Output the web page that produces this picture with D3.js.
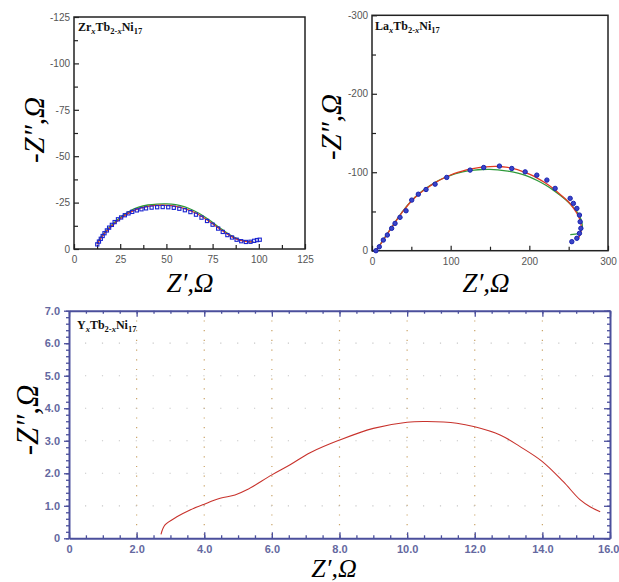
<!DOCTYPE html>
<html>
<head>
<meta charset="utf-8">
<script src="https://cdn.jsdelivr.net/npm/d3@7/dist/d3.min.js"></script>
<style>
  body { margin: 0; background: #fff; }
  svg { display: block; }
  .tick text { font-family: "Liberation Sans", Arial, sans-serif; }
</style>
</head>
<body>
<svg id="chart" width="619" height="582"></svg>
<script>
// ---- panel 1: ZrxTb2-xNi17 (Z', -Z'') ----
const zrSquares = [[12.6,-2.5],[13.5,-4],[14.5,-5.5],[15.5,-7],[16.5,-8.5],[17.8,-10],[19,-11.5],[20.5,-13],
  [22,-14.5],[23.8,-16],[25.5,-17],[27.5,-18.2],[29.5,-19.2],[31.5,-20],[34,-20.8],[36.5,-21.4],[39,-21.9],
  [42,-22.3],[45,-22.5],[48,-22.6],[51,-22.5],[54,-22.2],[57,-21.7],[60,-20.9],[63,-19.9],[66,-18.5],
  [69,-16.9],[72,-15.1],[75,-13.1],[78,-11],[80.5,-9.2],[83,-7.5],[85.5,-6.2],[88,-5],[90.5,-4.2],
  [93,-3.8],[95.5,-3.9],[97.5,-4.4],[99,-4.8],[100.5,-5]];
const zrRed = [[12.5,-2.5],[15,-6.5],[20,-12],[25,-16.3],[30,-19.6],[35,-21.8],[40,-23],[45,-23.5],[50,-23.5],
  [55,-23],[60,-21.8],[65,-19.8],[70,-17],[75,-13.6],[80,-10],[85,-6.8],[90,-4.6],[95,-3.8],[97,-4]];
const zrGreen = [[12.5,-2.8],[15,-7],[20,-12.6],[25,-17],[30,-20.3],[35,-22.5],[40,-23.7],[45,-24.2],[50,-24.3],
  [55,-23.9],[60,-22.7],[65,-20.6],[70,-17.8],[75,-14.3],[80,-10.6],[85,-7.2],[90,-4.9],[95,-3.9],[97,-4]];
const zrXTicks = [0, 25, 50, 75, 100, 125];
const zrYTicks = [0, -25, -50, -75, -100, -125];

// ---- panel 2: LaxTb2-xNi17 ----
const laDots = [[5,0],[9.3,-5],[14.4,-13.6],[19.5,-20],[25,-28.5],[29.3,-34.8],[35.6,-42.5],[43.3,-50.9],
  [50.5,-64.5],[58.9,-72],[68.7,-78],[80.2,-84.8],[95,-93.4],[124.7,-102.7],[142,-106],[162,-107.8],
  [177.7,-104.8],[194.7,-100.5],[209.5,-96.3],[222.3,-90],[232.8,-79.4],[251.9,-66.7],[256,-60.3],
  [260.4,-53.9],[263.7,-45.4],[264.6,-36.9],[265.5,-28.5],[263.7,-22.1],[260.4,-15.8],[254,-11.5]];
const laRed = [[5,0],[10,-7],[20,-22],[30,-37],[40,-51],[50,-63],[60,-72.5],[70,-80],[80,-86.5],[90,-92],
  [100,-96.5],[110,-100],[120,-103],[130,-105],[140,-106.5],[150,-107.2],[160,-107.3],[170,-106.5],
  [180,-104.5],[190,-101.5],[200,-97.5],[210,-92.5],[220,-86.5],[230,-79.5],[240,-71],[250,-62],
  [257,-53],[262,-45],[265,-37],[266,-30],[265,-22],[262,-15]];
const laGreen = [[5,0],[10,-7.5],[20,-22.5],[30,-37.5],[40,-51.5],[50,-63.5],[60,-73],[70,-80.5],[80,-86.8],
  [90,-92],[100,-96],[110,-99.2],[120,-101.5],[130,-102.8],[140,-103.5],[150,-103.6],[160,-103],
  [170,-101.8],[180,-100],[190,-97.5],[200,-94],[210,-89.5],[220,-84],[230,-77.5],[240,-70],
  [250,-61.5],[258,-53],[264,-44],[267,-35],[267,-28],[264,-23],[258,-21],[252,-20.5]];
const laXTicks = [0, 100, 200, 300];
const laYTicks = [0, -100, -200, -300];

// ---- panel 3: YxTb2-xNi17 ----
const yCurve = [[2.72,0.12],[2.84,0.41],[3.19,0.66],[3.58,0.87],[4.0,1.05],[4.47,1.23],[4.91,1.33],
  [5.26,1.49],[6.0,1.95],[6.54,2.26],[7.13,2.63],[8.0,3.02],[9.0,3.38],[10.0,3.57],[10.58,3.59],
  [11.47,3.54],[12.0,3.43],[12.75,3.18],[13.34,2.82],[14.0,2.36],[14.62,1.74],[15.12,1.18],
  [15.41,0.97],[15.71,0.82]];
const yXTicks = [0, 2, 4, 6, 8, 10, 12, 14, 16];
const yXLabels = ["0", "2.0", "4.0", "6.0", "8.0", "10.0", "12.0", "14.0", "16.0"];
const yYTicks = [0, 1, 2, 3, 4, 5, 6, 7];
const yYLabels = ["0", "1.0", "2.0", "3.0", "4.0", "5.0", "6.0", "7.0"];

const svg = d3.select("#chart");
const serif = "'Liberation Serif', 'Times New Roman', serif";

function title(g, x, y, el) {
  const t = g.append("text").attr("x", x).attr("y", y)
    .attr("font-family", serif).attr("font-weight", "bold").attr("font-size", 12).attr("fill", "#111");
  t.append("tspan").text(el);
  t.append("tspan").attr("font-size", 8.5).attr("font-style", "italic").attr("dy", 2.5).text("x");
  t.append("tspan").attr("dy", -2.5).text("Tb");
  t.append("tspan").attr("font-size", 8.5).attr("dy", 2.5).text("2-");
  t.append("tspan").attr("font-size", 8.5).attr("font-style", "italic").text("x");
  t.append("tspan").attr("dy", -2.5).text("Ni");
  t.append("tspan").attr("font-size", 8.5).attr("dy", 2.5).text("17");
}

function axisLabels(g, xl, yl) {
  g.append("text").attr("x", xl[0]).attr("y", xl[1]).attr("text-anchor", "middle")
    .attr("font-family", serif).attr("font-style", "italic").attr("font-size", xl[2])
    .text("Z\u2032,\u03A9");
  g.append("text").attr("transform", `translate(${yl[0]},${yl[1]}) rotate(-90)`)
    .attr("text-anchor", "middle").attr("font-family", serif).attr("font-style", "italic")
    .attr("font-size", yl[2]).text("-Z\u2033,\u03A9");
}

function nyquist(opt) {
  const g = svg.append("g");
  const x = d3.scaleLinear().domain(opt.xDomain).range(opt.xRange);
  const y = d3.scaleLinear().domain(opt.yDomain).range(opt.yRange);
  const [x0, x1] = opt.xRange, [y0, y1] = opt.yRange;

  // minor ticks
  g.append("g").attr("transform", `translate(0,${y0})`)
    .call(d3.axisBottom(x).tickValues(opt.xMinor).tickSize(-4).tickFormat(""))
    .call(a => a.select(".domain").remove());
  g.append("g").attr("transform", `translate(${x0},0)`)
    .call(d3.axisLeft(y).tickValues(opt.yMinor).tickSize(-4).tickFormat(""))
    .call(a => a.select(".domain").remove());
  // major ticks
  g.append("g").attr("transform", `translate(0,${y0})`)
    .call(d3.axisBottom(x).tickValues(opt.xTicks).tickSizeInner(-5).tickSizeOuter(0).tickPadding(7).tickFormat(d3.format("d")))
    .call(a => a.select(".domain").remove());
  g.append("g").attr("transform", `translate(${x0},0)`)
    .call(d3.axisLeft(y).tickValues(opt.yTicks).tickSizeInner(-5).tickSizeOuter(0).tickPadding(4)
      .tickFormat(d => d === 0 ? "0" : String(d)))
    .call(a => a.select(".domain").remove());
  g.selectAll(".tick line").attr("stroke", "#222").attr("stroke-width", 1.2);
  g.selectAll(".tick text").attr("font-size", 10).attr("fill", "#555");

  g.append("rect").attr("x", x0).attr("y", y1).attr("width", x1 - x0).attr("height", y0 - y1)
    .attr("fill", "none").attr("stroke", "#222").attr("stroke-width", 1.5);

  const line = d3.line().x(d => x(d[0])).y(d => y(d[1])).curve(d3.curveCatmullRom);
  g.append("path").datum(opt.green).attr("d", line).attr("fill", "none")
    .attr("stroke", "#2e9a3a").attr("stroke-width", 1.3);
  g.append("path").datum(opt.red).attr("d", line).attr("fill", "none")
    .attr("stroke", "#e23a22").attr("stroke-width", 1.3);

  if (opt.marker === "square") {
    g.selectAll("rect.pt").data(opt.points).join("rect").attr("class", "pt")
      .attr("x", d => x(d[0]) - 1.6).attr("y", d => y(d[1]) - 1.6).attr("width", 3.2).attr("height", 3.2)
      .attr("fill", "none").attr("stroke", "#1a24d0").attr("stroke-width", 1.1);
  } else {
    g.selectAll("circle.pt").data(opt.points).join("circle").attr("class", "pt")
      .attr("cx", d => x(d[0])).attr("cy", d => y(d[1])).attr("r", 2.2)
      .attr("fill", "#3a44c8").attr("stroke", "#1a24b0").attr("stroke-width", 1);
  }
  title(g, opt.title[0], opt.title[1], opt.title[2]);
  axisLabels(g, opt.xLabel, opt.yLabel);
}

nyquist({
  xDomain: [0, 125], xRange: [74, 305], yDomain: [0, -125], yRange: [249, 17],
  xTicks: zrXTicks, yTicks: zrYTicks,
  xMinor: [12.5, 37.5, 62.5, 87.5, 112.5], yMinor: [-12.5, -37.5, -62.5, -87.5, -112.5],
  points: zrSquares, red: zrRed, green: zrGreen, marker: "square",
  title: [78, 31, "Zr"], xLabel: [190, 292, 27], yLabel: [44, 130, 29]
});

nyquist({
  xDomain: [0, 300], xRange: [372, 608], yDomain: [0, -300], yRange: [250.7, 15.3],
  xTicks: laXTicks, yTicks: laYTicks,
  xMinor: [50, 150, 250], yMinor: [-50, -150, -250],
  points: laDots, red: laRed, green: laGreen, marker: "circle",
  title: [375, 30, "La"], xLabel: [486, 292, 27], yLabel: [341, 127, 29]
});

// ---- bottom panel ----
(function () {
  const g = svg.append("g");
  const x = d3.scaleLinear().domain([0, 16]).range([69, 610]);
  const y = d3.scaleLinear().domain([0, 7]).range([538.3, 310.7]);
  const navy = "#4b4f9c";

  // grid
  const vx = yXTicks.slice(1, -1);
  g.selectAll("line.vg").data(vx).join("line").attr("class", "vg")
    .attr("x1", d => x(d)).attr("x2", d => x(d)).attr("y1", y(7)).attr("y2", y(0))
    .attr("stroke", "#c9a367").attr("stroke-width", 1.2).attr("stroke-dasharray", "1.2,8.5");
  g.selectAll("line.hg").data(yYTicks.slice(1, -1)).join("line").attr("class", "hg")
    .attr("x1", x(0)).attr("x2", x(16)).attr("y1", d => y(d)).attr("y2", d => y(d))
    .attr("stroke", "#c8c8c8").attr("stroke-width", 1.2).attr("stroke-dasharray", "1.2,15.7")
    .attr("stroke-dashoffset", -16);

  const xMinor = d3.range(0, 16.01, 0.5);
  const yMinor = d3.range(0, 7.01, 0.2);
  const axes = [
    [() => d3.axisBottom(x), `translate(0,${y(0)})`, -3, -6, xMinor, yXTicks, yXLabels, 7],
    [() => d3.axisTop(x), `translate(0,${y(7)})`, -3, -6, xMinor, yXTicks, null, 0],
    [() => d3.axisLeft(y), `translate(${x(0)},0)`, 3, 5, yMinor, yYTicks, yYLabels, 4],
    [() => d3.axisRight(y), `translate(${x(16)},0)`, -3, -6, yMinor, yYTicks, null, 0]
  ];
  axes.forEach(([mk, tr, mSize, MSize, minor, major, labels, pad]) => {
    g.append("g").attr("transform", tr)
      .call(mk().tickValues(minor).tickSize(mSize).tickFormat(""))
      .call(a => a.select(".domain").remove());
    g.append("g").attr("transform", tr)
      .call(mk().tickValues(major).tickSizeInner(MSize).tickSizeOuter(0).tickPadding(pad)
        .tickFormat((d, i) => labels ? labels[i] : ""))
      .call(a => a.select(".domain").attr("stroke", navy).attr("stroke-width", 2));
  });
  g.selectAll(".tick line").attr("stroke", navy).attr("stroke-width", 1.3);
  g.selectAll(".tick text").attr("font-size", 11).attr("font-weight", "bold").attr("fill", "#6468a0");
  // keep the last x label inside the window
  g.selectAll(".tick text").filter(t => t === 16).attr("text-anchor", "end").attr("dx", 9);

  const line = d3.line().x(d => x(d[0])).y(d => y(d[1])).curve(d3.curveCatmullRom);
  g.append("path").datum(yCurve).attr("d", line).attr("fill", "none")
    .attr("stroke", "#c8322c").attr("stroke-width", 1.1);

  title(g, 77, 329, "Y");
  axisLabels(g, [334, 577, 26], [38, 420, 31]);
})();
</script>
</body>
</html>
